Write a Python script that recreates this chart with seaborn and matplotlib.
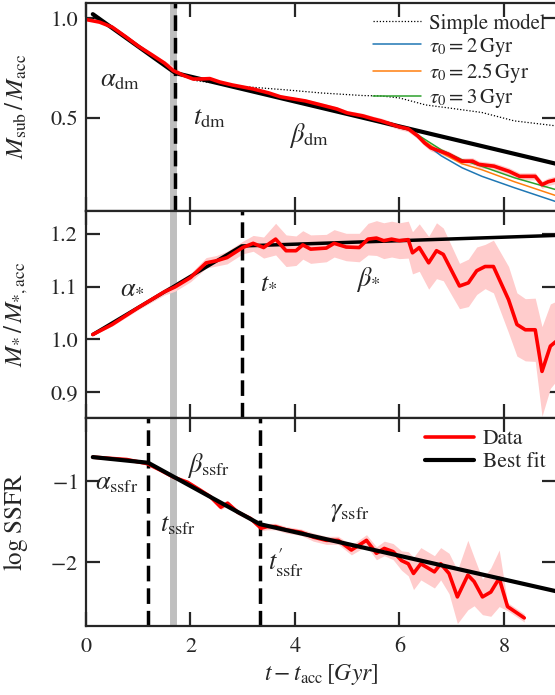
import numpy as np
import matplotlib
matplotlib.use("Agg")
import matplotlib.pyplot as plt
import seaborn as sns

# --- top panel: subhalo dark matter mass ---
t_dm = [0.0, 0.26, 0.5, 0.77, 1.0, 1.28, 1.5, 1.67, 1.85, 2.05, 2.2, 2.37, 2.56, 2.8,
        3.2, 3.5, 3.72, 3.85, 4.2, 4.5, 4.8, 5.0, 5.3, 5.5, 5.65, 6.0, 6.17, 6.35,
        6.48, 6.6, 6.94, 7.19, 7.4, 7.52, 7.81, 8.1, 8.3, 8.6, 8.73, 8.85, 9.0]
m_dm = [0.993, 0.98, 0.955, 0.905, 0.86, 0.813, 0.775, 0.737, 0.715, 0.695, 0.695,
        0.697, 0.68, 0.665, 0.645, 0.625, 0.606, 0.60, 0.585, 0.565, 0.545, 0.525,
        0.51, 0.495, 0.485, 0.455, 0.445, 0.41, 0.375, 0.35, 0.318, 0.283, 0.283,
        0.267, 0.258, 0.232, 0.207, 0.207, 0.165, 0.18, 0.19]
err_dm = [0.003, 0.003, 0.004, 0.004, 0.005, 0.006, 0.012, 0.022, 0.01, 0.006, 0.006,
          0.006, 0.006, 0.007, 0.007, 0.008, 0.009, 0.009, 0.01, 0.01, 0.011, 0.012,
          0.013, 0.013, 0.014, 0.014, 0.015, 0.015, 0.015, 0.016, 0.016, 0.016, 0.017,
          0.017, 0.017, 0.018, 0.018, 0.018, 0.019, 0.019, 0.019]
t_simple = [0.13, 0.5, 0.77, 1.28, 1.67, 2.1, 2.87, 3.85, 4.5, 5.3, 5.65, 6.0, 6.29,
            6.5, 6.94, 7.58, 8.2, 9.0]
m_simple = [1.0, 0.95, 0.90, 0.81, 0.73, 0.687, 0.66, 0.64, 0.625, 0.612, 0.61, 0.60,
            0.58, 0.565, 0.55, 0.527, 0.485, 0.46]
t_tau = [6.17, 6.5, 6.8, 7.2, 7.58, 8.2, 8.6, 9.0]
m_tau2 = [0.445, 0.37, 0.31, 0.25, 0.207, 0.15, 0.115, 0.08]
m_tau25 = [0.445, 0.38, 0.325, 0.27, 0.24, 0.18, 0.145, 0.11]
m_tau3 = [0.445, 0.39, 0.34, 0.29, 0.257, 0.20, 0.17, 0.14]
fit_t_dm = [0.13, 1.71, 9.0]
fit_m_dm = [1.02, 0.725, 0.27]

# --- middle panel: stellar mass ---
t_st = [0.13, 0.5, 1.0, 1.5, 1.7, 2.0, 2.3, 2.5, 2.7, 3.0, 3.2, 3.4, 3.63, 3.83, 4.02,
        4.15, 4.3, 4.6, 4.75, 4.98, 5.23, 5.4, 5.56, 5.7, 5.85, 6.0, 6.17, 6.25, 6.38,
        6.56, 6.71, 6.84, 7.15, 7.32, 7.48, 7.64, 7.8, 8.09, 8.25, 8.41, 8.6, 8.73,
        8.89, 9.0]
m_st = [1.009, 1.028, 1.06, 1.09, 1.099, 1.117, 1.145, 1.149, 1.155, 1.174, 1.182,
        1.174, 1.19, 1.168, 1.168, 1.179, 1.171, 1.173, 1.182, 1.175, 1.174, 1.19,
        1.192, 1.187, 1.19, 1.187, 1.189, 1.164, 1.174, 1.145, 1.168, 1.161, 1.101,
        1.107, 1.13, 1.138, 1.138, 1.075, 1.028, 1.018, 1.018, 0.939, 0.987, 0.996]
err_st = [0.002, 0.003, 0.004, 0.006, 0.008, 0.008, 0.01, 0.01, 0.012, 0.012, 0.015,
          0.02, 0.03, 0.03, 0.028, 0.027, 0.027, 0.026, 0.026, 0.026, 0.027, 0.03,
          0.033, 0.034, 0.034, 0.034, 0.035, 0.04, 0.045, 0.05, 0.053, 0.05, 0.043,
          0.045, 0.045, 0.042, 0.05, 0.063, 0.06, 0.059, 0.06, 0.085, 0.08, 0.076]
fit_t_st = [0.13, 2.98, 9.0]
fit_m_st = [1.009, 1.177, 1.197]

# --- bottom panel: specific star formation rate ---
t_sf = [0.13, 0.78, 1.17, 1.42, 1.68, 1.94, 2.19, 2.38, 2.58, 2.71, 2.9, 3.15, 3.35,
        3.47, 3.63, 3.83, 4.12, 4.35, 4.6, 4.83, 5.08, 5.37, 5.56, 5.71, 5.88, 6.04,
        6.17, 6.27, 6.41, 6.67, 6.79, 6.95, 7.11, 7.31, 7.43, 7.59, 7.75, 7.91, 8.07,
        8.39]
ssfr = [-0.70, -0.73, -0.78, -0.86, -0.95, -1.01, -1.11, -1.19, -1.32, -1.27, -1.38,
        -1.46, -1.58, -1.56, -1.56, -1.60, -1.63, -1.69, -1.73, -1.73, -1.85, -1.73,
        -1.89, -1.83, -1.87, -1.98, -2.02, -2.14, -2.02, -2.12, -2.02, -2.14, -2.43,
        -2.16, -2.24, -2.43, -2.37, -2.20, -2.55, -2.69]
err_sf = [0.02, 0.02, 0.02, 0.02, 0.02, 0.02, 0.025, 0.025, 0.03, 0.03, 0.03, 0.03,
          0.03, 0.04, 0.04, 0.04, 0.04, 0.05, 0.05, 0.05, 0.06, 0.07, 0.08, 0.09, 0.1,
          0.12, 0.15, 0.2, 0.2, 0.2, 0.2, 0.25, 0.33, 0.43, 0.3, 0.22, 0.3, 0.35, 0.05,
          0.05]
fit_t_sf = [0.13, 1.19, 3.33, 9.0]
fit_sf = [-0.70, -0.77, -1.53, -2.36]

t_gray = 1.665
t_breaks = [[1.71], [2.98], [1.19, 3.33]]

sns.set_style("ticks")
plt.rcParams.update({
    "font.family": ["STIXGeneral", "DejaVu Serif"],
    "mathtext.fontset": "stix",
    "font.size": 16,
    "axes.linewidth": 1.6,
    "xtick.direction": "in", "ytick.direction": "in",
    "xtick.top": True, "ytick.right": True,
    "xtick.major.size": 10, "ytick.major.size": 10,
    "xtick.major.width": 1.6, "ytick.major.width": 1.6,
    "xtick.labelsize": 16, "ytick.labelsize": 16,
    "xtick.major.pad": 8, "ytick.major.pad": 6,
})

fig, axes = plt.subplots(3, 1, figsize=(5.55, 6.95), dpi=100, sharex=True)
fig.subplots_adjust(left=0.155, right=1.002, top=0.9957, bottom=0.0993, hspace=0)
ax1, ax2, ax3 = axes

red = "#ff0000"
band = "#ffcccc"

# top
ax1.fill_between(t_dm, np.array(m_dm) - err_dm, np.array(m_dm) + err_dm, color=band, lw=0)
sns.lineplot(x=t_simple, y=m_simple, ax=ax1, color="k", lw=0.9, ls=(0, (1, 1.5)),
             label="Simple model", sort=False)
sns.lineplot(x=t_tau, y=m_tau2, ax=ax1, color="C0", lw=1.1, label=r"$\tau_0 = 2\,{\rm Gyr}$")
sns.lineplot(x=t_tau, y=m_tau25, ax=ax1, color="C1", lw=1.1, label=r"$\tau_0 = 2.5\,{\rm Gyr}$")
sns.lineplot(x=t_tau, y=m_tau3, ax=ax1, color="C2", lw=1.1, label=r"$\tau_0 = 3\,{\rm Gyr}$")
sns.lineplot(x=fit_t_dm, y=fit_m_dm, ax=ax1, color="k", lw=3, legend=False)
sns.lineplot(x=t_dm, y=m_dm, ax=ax1, color=red, lw=2.6, legend=False, sort=False)
ax1.legend(loc="upper right", frameon=False, fontsize=15, handlelength=2.3,
           labelspacing=0.1, borderpad=0.2, handletextpad=0.4, borderaxespad=0.3)
ax1.set_ylim(0.035, 1.076)
ax1.set_yticks([0.5, 1.0])
ax1.set_ylabel(r"$M_{\rm sub}\,/\,M_{\rm acc}$", fontsize=18)

# middle
ax2.fill_between(t_st, np.array(m_st) - err_st, np.array(m_st) + err_st, color=band, lw=0)
sns.lineplot(x=fit_t_st, y=fit_m_st, ax=ax2, color="k", lw=2.5)
sns.lineplot(x=t_st, y=m_st, ax=ax2, color=red, lw=2.6, sort=False)
ax2.set_ylim(0.85, 1.244)
ax2.set_yticks([0.9, 1.0, 1.1, 1.2])
ax2.set_ylabel(r"$M_{*}\,/\,M_{*,\rm acc}$", fontsize=18)

# bottom
ax3.fill_between(t_sf, np.array(ssfr) - err_sf, np.array(ssfr) + err_sf, color=band, lw=0)
sns.lineplot(x=t_sf, y=ssfr, ax=ax3, color=red, lw=2.6, label="Data", sort=False)
sns.lineplot(x=fit_t_sf, y=fit_sf, ax=ax3, color="k", lw=3, label="Best fit")
ax3.legend(loc="upper right", frameon=False, fontsize=15.5, handlelength=2.3,
           labelspacing=0.15, borderpad=0.2, handletextpad=0.4, borderaxespad=0.3)
ax3.set_ylim(-2.79, -0.22)
ax3.set_yticks([-2, -1])
ax3.set_yticklabels([r"$-2$", r"$-1$"])
ax3.set_ylabel(r"$\log\,{\rm SSFR}$", fontsize=18)
ax3.set_xlabel(r"$t - t_{\rm acc}\,[Gyr]$", fontsize=17)

for ax, breaks in zip(axes, t_breaks):
    ax.axvline(t_gray, color="0.75", lw=5, zorder=0)
    for tb in breaks:
        ax.axvline(tb, color="k", lw=2.5, ls=(0, (4.5, 2)), zorder=1)
    ax.set_xlim(0, 9)
    ax.set_xticks([0, 2, 4, 6, 8])
    ax.yaxis.set_label_coords(-0.12, 0.5)

# piece labels
ax1.text(0.27, 0.687, r"$\alpha_{\rm dm}$", fontsize=19, va="center")
ax1.text(2.05, 0.495, r"$t_{\rm dm}$", fontsize=19, va="center")
ax1.text(3.88, 0.41, r"$\beta_{\rm dm}$", fontsize=19, va="center")
ax2.text(0.65, 1.099, r"$\alpha_{*}$", fontsize=19, va="center")
ax2.text(3.34, 1.109, r"$t_{*}$", fontsize=19, va="center")
ax2.text(5.16, 1.113, r"$\beta_{*}$", fontsize=19, va="center")
ax3.text(0.17, -1.02, r"$\alpha_{\rm ssfr}$", fontsize=19, va="center")
ax3.text(1.42, -1.54, r"$t_{\rm ssfr}$", fontsize=19, va="center")
ax3.text(1.94, -0.80, r"$\beta_{\rm ssfr}$", fontsize=19, va="center")
ax3.text(3.49, -2.0, r"$t^{\prime}_{\rm ssfr}$", fontsize=19, va="center")
ax3.text(4.68, -1.38, r"$\gamma_{\rm ssfr}$", fontsize=19, va="center")

plt.savefig("out.png", dpi=100)
plt.close()
